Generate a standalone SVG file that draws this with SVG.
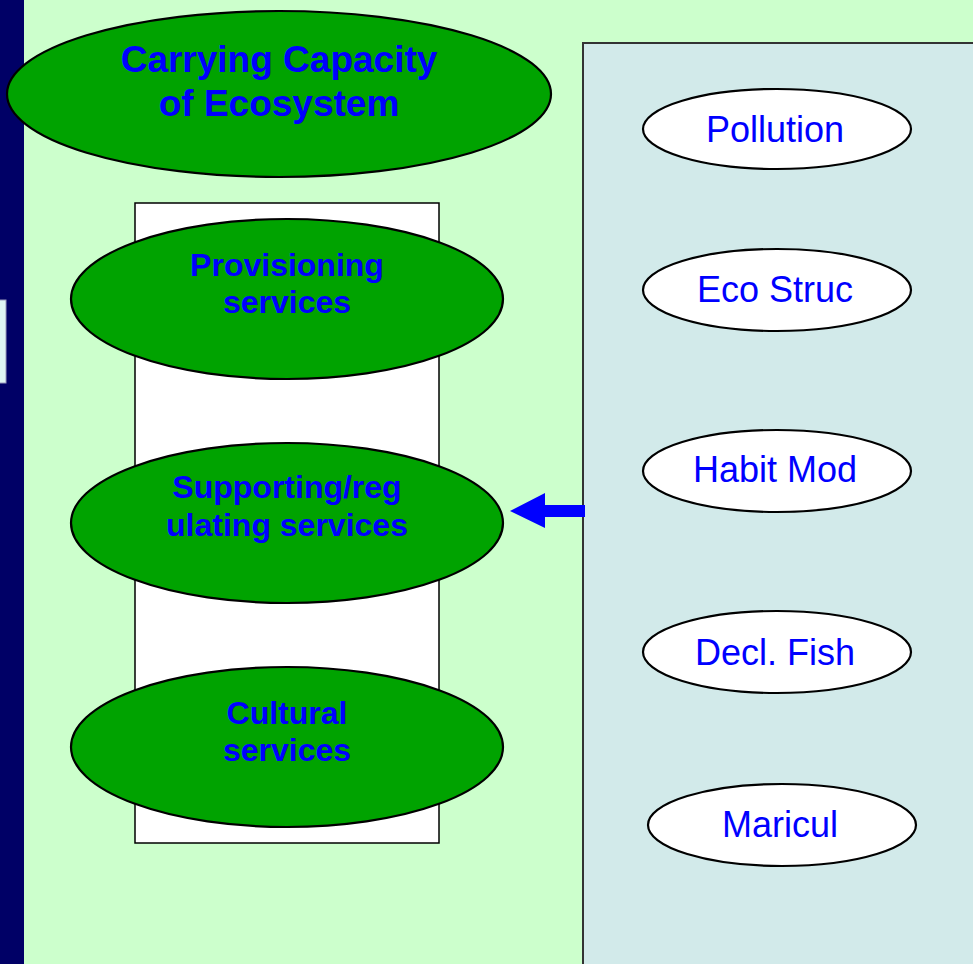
<svg xmlns="http://www.w3.org/2000/svg" width="973" height="964" viewBox="0 0 973 964">
<style>
.green{fill:#00A300;stroke:#000;stroke-width:2.2}
.white{fill:#fff;stroke:#000;stroke-width:2.2}
.tb{font-family:"Liberation Sans",Arial,sans-serif;font-weight:bold;fill:#0000FF;text-anchor:middle}
.tr{font-family:"Liberation Sans",Arial,sans-serif;fill:#0000FF;text-anchor:middle;font-size:36px}
</style>
<rect x="0" y="0" width="973" height="964" fill="#CCFFCC"/>
<rect x="0" y="0" width="24" height="964" fill="#000066"/>
<rect x="-1" y="300" width="7" height="83" fill="#DFF5F3" stroke="#9999BB" stroke-width="1"/>
<rect id="panel" x="583" y="43" width="400" height="930" fill="#D2EAEA" stroke="#333" stroke-width="2"/>
<rect id="column" x="135" y="203" width="304" height="640" fill="#fff" stroke="#000" stroke-width="1.5"/>
<g id="carrying">
<ellipse class="green" cx="279" cy="94" rx="272" ry="83"/>
<text class="tb" font-size="37" x="279" y="72">Carrying Capacity</text>
<text class="tb" font-size="37" x="279" y="116">of Ecosystem</text>
</g>
<g id="provisioning">
<ellipse class="green" cx="287" cy="299" rx="216" ry="80"/>
<text class="tb" font-size="32" x="287" y="276">Provisioning</text>
<text class="tb" font-size="32" x="287" y="313">services</text>
</g>
<g id="supporting">
<ellipse class="green" cx="287" cy="523" rx="216" ry="80"/>
<text class="tb" font-size="32" x="287" y="498">Supporting/reg</text>
<text class="tb" font-size="32" x="287" y="536">ulating services</text>
</g>
<g id="cultural">
<ellipse class="green" cx="287" cy="747" rx="216" ry="80"/>
<text class="tb" font-size="32" x="287" y="724">Cultural</text>
<text class="tb" font-size="32" x="287" y="761">services</text>
</g>
<g id="pollution">
<ellipse class="white" cx="777" cy="129" rx="134" ry="40"/>
<text class="tr" x="775" y="142">Pollution</text>
</g>
<g id="ecostruc">
<ellipse class="white" cx="777" cy="290" rx="134" ry="41"/>
<text class="tr" x="775" y="302">Eco Struc</text>
</g>
<g id="habitmod">
<ellipse class="white" cx="777" cy="471" rx="134" ry="41"/>
<text class="tr" x="775" y="482">Habit Mod</text>
</g>
<g id="declfish">
<ellipse class="white" cx="777" cy="652" rx="134" ry="41"/>
<text class="tr" x="775" y="665">Decl. Fish</text>
</g>
<g id="maricul">
<ellipse class="white" cx="782" cy="825" rx="134" ry="41"/>
<text class="tr" x="780" y="837">Maricul</text>
</g>
<g id="connectors">
<polygon points="585,505 545,505 545,493 510,511 545,528 545,517 585,517" fill="#0000FF"/>
</g>
</svg>
